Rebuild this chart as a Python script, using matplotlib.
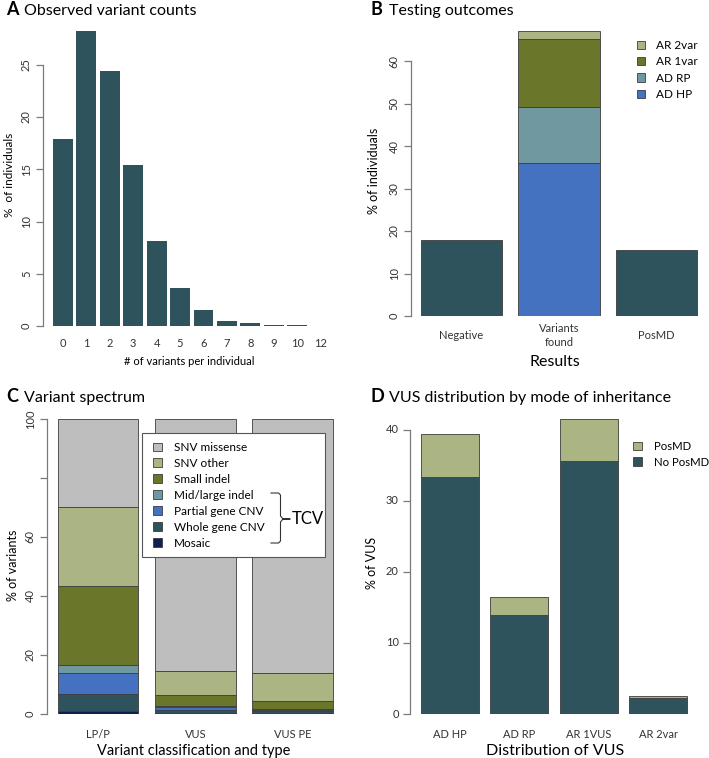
import numpy as np
import matplotlib
matplotlib.use("Agg")
import matplotlib.pyplot as plt
from matplotlib.patches import Rectangle
from matplotlib.lines import Line2D

plt.rcParams['font.family'] = ['Lato', 'DejaVu Sans']

# ---- data ----
a_labels = ['0', '1', '2', '3', '4', '5', '6', '7', '8', '9', '10', '12']
a_values = [17.9, 28.25, 24.45, 15.4, 8.1, 3.6, 1.5, 0.5, 0.25, 0.12, 0.06, 0.03]

b_labels = ['Negative', 'Variants\nfound', 'PosMD']
b_plain = [18.0, 0, 15.5]
b_stack_names = ['AD HP', 'AD RP', 'AR 1var', 'AR 2var']
b_stack_values = [35.9, 13.2, 16.0, 2.0]   # only for "Variants found"

c_labels = ['LP/P', 'VUS', 'VUS PE']
c_types = ['Mosaic', 'Whole gene CNV', 'Partial gene CNV', 'Mid/large indel',
           'Small indel', 'SNV other', 'SNV missense']
c_values = {
    'LP/P':   [1.1, 5.7, 7.0, 2.7, 26.8, 26.8, 29.9],
    'VUS':    [0.3, 1.1, 1.1, 0.3, 3.6, 8.1, 85.5],
    'VUS PE': [0.3, 0.7, 0.4, 0.2, 2.9, 9.3, 86.2],
}

d_labels = ['AD HP', 'AD RP', 'AR 1VUS', 'AR 2var']
d_no_posmd = [33.3, 13.9, 35.6, 2.2]
d_posmd = [6.1, 2.6, 5.9, 0.3]

# ---- colours ----
DARK = '#2f535c'
LOLIVE = '#abb583'
DOLIVE = '#6a7629'
LTEAL = '#7098a0'
BLUE = '#4472c0'
NAVY = '#0f1f4e'
GREY = '#bebebe'
EDGE = '#3c3c3c'
AX = '#7a7a7a'

c_colors = [NAVY, DARK, BLUE, LTEAL, DOLIVE, LOLIVE, GREY]
b_colors = [BLUE, LTEAL, DOLIVE, LOLIVE]

W, H = 709, 758
fig = plt.figure(figsize=(W / 100, H / 100), dpi=100)


def px_axes(left, top, right, bottom):
    return fig.add_axes([left / W, 1 - bottom / H, (right - left) / W, (bottom - top) / H])


def fx(x):
    return x / W


def fy(y):
    return 1 - y / H


def style(ax, yticks, rot=90, show=None):
    for s in ['top', 'right', 'bottom']:
        ax.spines[s].set_visible(False)
    ax.spines['left'].set_color(AX)
    ax.spines['left'].set_linewidth(0.9)
    ax.spines['left'].set_bounds(yticks[0], yticks[-1])
    ax.set_yticks(yticks)
    labels = [str(t) for t in yticks] if show is None else show
    ax.set_yticklabels(labels, rotation=rot, va='center', fontsize=8, color='#333333')
    ax.tick_params(axis='y', length=5, width=0.9, color=AX, pad=3)
    ax.tick_params(axis='x', length=0, labelsize=8, colors='#333333')


def title(x, y, letter, text):
    fig.text(fx(x), fy(y), letter, fontsize=13, fontweight='bold', va='baseline', ha='left')
    fig.text(fx(x + 18), fy(y), text, fontsize=11.5, va='baseline', ha='left')


def px_legend(ax, handles, labels, left, top, handle_px, text_px, fs=8.5, spacing=0.45):
    em = fs * 100 / 72
    box = ax.get_position()
    ax_l, ax_b = box.x0 * W, (1 - box.y1) * H
    ax_w, ax_h = box.width * W, box.height * H
    return ax.legend(handles, labels, loc='upper left',
                     bbox_to_anchor=((left - ax_l) / ax_w, 1 - (top - ax_b) / ax_h),
                     frameon=False, fontsize=fs, handlelength=handle_px / em,
                     handleheight=handle_px / em, handletextpad=(text_px - left - handle_px) / em,
                     labelspacing=spacing, borderpad=0, borderaxespad=0)


# ---- Panel A ----
ax = px_axes(43, 23, 335, 326)
xa = np.arange(len(a_values))
ax.bar(xa, a_values, width=0.85, color=DARK)
ax.set_xlim(-0.855, 11.62)
ax.set_ylim(0, 29)
style(ax, [0, 5, 10, 15, 20, 25])
ax.set_xticks(xa)
ax.set_xticklabels(a_labels)
ax.tick_params(axis='x', pad=9)
ax.set_ylabel('%  of individuals', fontsize=8.5, labelpad=4)
ax.set_xlabel('# of variants per individual', fontsize=8, labelpad=5)
title(6, 15, 'A', 'Observed variant counts')

# ---- Panel B ----
ax = px_axes(410.7, 25, 700, 316)
xb = np.arange(len(b_labels))
ax.bar(xb, b_plain, width=0.837, color=DARK, edgecolor=EDGE, linewidth=0.6)
bottom = 0
for name, val, col in zip(b_stack_names, b_stack_values, b_colors):
    ax.bar(1, val, bottom=bottom, width=0.837, color=col, edgecolor=EDGE,
           linewidth=0.6, label=name)
    bottom += val
ax.set_xlim(-0.52, 2.446)
ax.set_ylim(0, 68.5)
style(ax, [0, 10, 20, 30, 40, 50, 60])
ax.set_xticks(xb)
ax.set_xticklabels(b_labels, va='center', linespacing=1.35)
ax.tick_params(axis='x', pad=14)
ax.set_ylabel('% of individuals', fontsize=9, labelpad=6)
ax.set_xlabel('Results', fontsize=11.5, labelpad=5)
h, l = ax.get_legend_handles_labels()
px_legend(ax, h[::-1], l[::-1], 637, 40, 8, 656)
title(371, 15, 'B', 'Testing outcomes')

# ---- Panel C ----
ax = px_axes(46.7, 416, 340, 714)
xc = np.arange(len(c_labels))
bottoms = np.zeros(len(c_labels))
for i, (name, col) in enumerate(zip(c_types, c_colors)):
    vals = np.array([c_values[k][i] for k in c_labels])
    ax.bar(xc, vals, bottom=bottoms, width=0.83, color=col, edgecolor=EDGE,
           linewidth=0.6, label=name)
    bottoms += vals
ax.set_xlim(-0.53, 2.49)
ax.set_ylim(0, 101)
style(ax, [0, 20, 40, 60, 80, 100], show=['0', '20', '40', '60', '', '100'])
ax.set_xticks(xc)
ax.set_xticklabels(c_labels)
ax.tick_params(axis='x', pad=11)
ax.set_ylabel('% of variants', fontsize=9, labelpad=4)
ax.set_xlabel('Variant classification and type', fontsize=10.5, labelpad=3)
# legend frame (wider than the entries, leaves room for the TCV bracket)
frame = Rectangle((fx(141.7), fy(557.3)), fx(325) - fx(141.7), fy(433.3) - fy(557.3),
                  transform=fig.transFigure, facecolor='white', edgecolor='#555555',
                  linewidth=0.8, zorder=3, clip_on=False)
ax.add_artist(frame)
h, l = ax.get_legend_handles_labels()
px_legend(ax, h[::-1], l[::-1], 152.5, 442, 9, 174.3, spacing=0.42)

# TCV bracket
bx0, bx1, bxm, ytop, ybot, ymid = 271, 280.5, 290, 493, 543, 519
path_x = [bx0, bx1 - 2, bx1, bx1, bx1 + 2.5, bxm, bx1 + 2.5, bx1, bx1, bx1 - 2, bx0]
path_y = [ytop, ytop, ytop + 2, ymid - 3, ymid, ymid, ymid, ymid + 3, ybot - 2, ybot, ybot]
fig.add_artist(Line2D([fx(x) for x in path_x], [fy(y) for y in path_y],
                      color='#333333', linewidth=0.8))
fig.text(fx(292), fy(519), 'TCV', fontsize=12, va='center', ha='left')
title(6, 402, 'C', 'Variant spectrum')

# ---- Panel D ----
ax = px_axes(410, 412, 700, 714)
xd = np.arange(len(d_labels))
ax.bar(xd, d_no_posmd, width=0.835, color=DARK, edgecolor=EDGE, linewidth=0.6,
       label='No PosMD')
ax.bar(xd, d_posmd, bottom=d_no_posmd, width=0.835, color=LOLIVE, edgecolor=EDGE,
       linewidth=0.6, label='PosMD')
ax.set_xlim(-0.571, 3.6)
ax.set_ylim(0, 42.5)
style(ax, [0, 10, 20, 30, 40], rot=0)
ax.set_xticks(xd)
ax.set_xticklabels(d_labels)
ax.tick_params(axis='x', pad=11)
ax.set_ylabel('% of VUS', fontsize=9, labelpad=6)
ax.set_xlabel('Distribution of VUS', fontsize=11.5, labelpad=3)
h, l = ax.get_legend_handles_labels()
px_legend(ax, h[::-1], l[::-1], 632.5, 441, 9, 654, fs=8.2, spacing=0.4)
title(371, 402, 'D', 'VUS distribution by mode of inheritance')

fig.savefig('out.png', dpi=100)
